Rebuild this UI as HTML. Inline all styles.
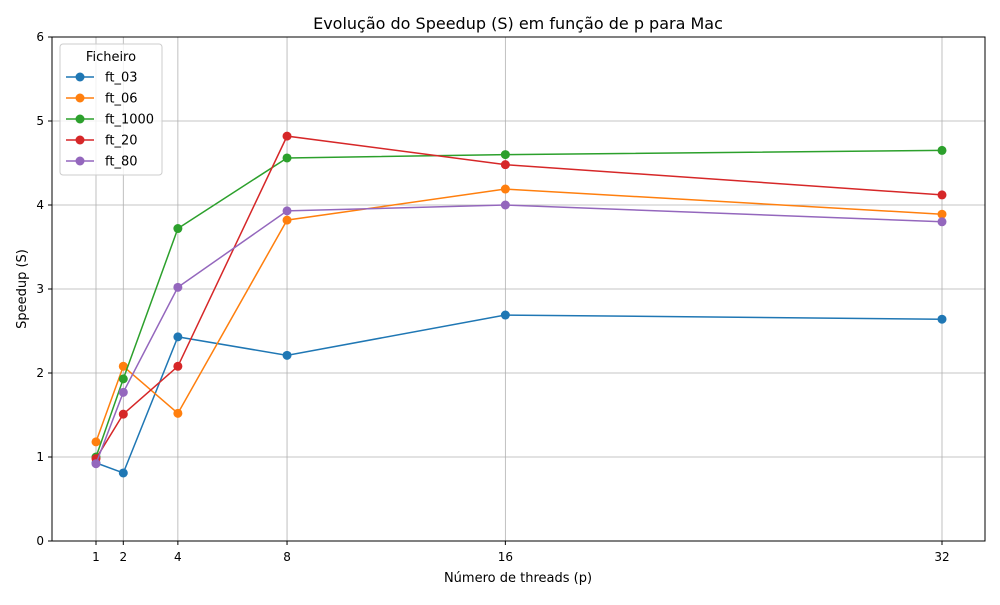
<!DOCTYPE html>
<html><head><meta charset="utf-8"><style>
body{margin:0;background:#fff;font-family:"Liberation Sans","DejaVu Sans",sans-serif;}
svg text{font-family:"DejaVu Sans","Liberation Sans",sans-serif;}
</style></head><body>
<svg id="chart" width="1000" height="600" xmlns="http://www.w3.org/2000/svg">
<rect width="1000" height="600" fill="#fff"/>
<g id="grid"></g>
<g id="series"></g>
<rect x="52" y="37" width="933" height="504" fill="none" stroke="#000" stroke-width="1"/>
<g id="axes"></g>
<text x="518" y="29" text-anchor="middle" font-size="16">Evolução do Speedup (S) em função de p para Mac</text>
<text x="518" y="582" text-anchor="middle" font-size="13">Número de threads (p)</text>
<text transform="translate(26,289) rotate(-90)" text-anchor="middle" font-size="13">Speedup (S)</text>
<g id="legend"></g>
</svg>
<script>
const xValues=[1,2,4,8,16,32];
const xTicks=[1,2,4,8,16,32];
const yTicks=[0,1,2,3,4,5,6];
const seriesNames=["ft_03","ft_06","ft_1000","ft_20","ft_80"];
const colors=["#1f77b4","#ff7f0e","#2ca02c","#d62728","#9467bd"];
const ft03=[0.93,0.81,2.43,2.21,2.69,2.64];
const ft06=[1.18,2.08,1.52,3.82,4.19,3.89];
const ft1000=[1.0,1.93,3.72,4.56,4.60,4.65];
const ft20=[0.98,1.51,2.08,4.82,4.48,4.12];
const ft80=[0.92,1.77,3.02,3.93,4.00,3.80];
const seriesData=[ft03,ft06,ft1000,ft20,ft80];
const NS="http://www.w3.org/2000/svg";
const X=v=>96+(v-1)*(846/31);
const Y=v=>541-v*84;
function mk(t,a,p){const e=document.createElementNS(NS,t);for(const k in a)e.setAttribute(k,a[k]);p.appendChild(e);return e;}
const grid=document.getElementById('grid'),axes=document.getElementById('axes'),ser=document.getElementById('series'),leg=document.getElementById('legend');
xTicks.forEach(t=>{
 const g=mk('line',{x1:X(t),x2:X(t),y1:37,y2:541,stroke:'#b0b0b0','stroke-width':0.8},grid);
 
 
 mk('line',{x1:X(t),x2:X(t),y1:541,y2:545,stroke:'#000'},axes);
 const tx=mk('text',{x:X(t),y:561,'text-anchor':'middle','font-size':12},axes);tx.textContent=t;
 
 
});
yTicks.forEach(t=>{
 const g=mk('line',{x1:52,x2:985,y1:Y(t),y2:Y(t),stroke:'#b0b0b0','stroke-width':0.8},grid);
 
 
 mk('line',{x1:48,x2:52,y1:Y(t),y2:Y(t),stroke:'#000'},axes);
 const tx=mk('text',{x:44,y:Y(t)+4,'text-anchor':'end','font-size':12},axes);tx.textContent=t;
 
 
});
seriesData.forEach((d,i)=>{
 const g=mk('g',{},ser);
 
 
 mk('polyline',{points:d.map((v,j)=>X(xValues[j])+','+Y(v)).join(' '),fill:'none',stroke:colors[i],'stroke-width':1.5},g);
 d.forEach((v,j)=>{
  const c=mk('circle',{cx:X(xValues[j]),cy:Y(v),r:4.5,fill:colors[i]},g);
  
  
 });
});
const lb=mk('rect',{x:60,y:44,width:102,height:131,rx:3,fill:'#fff','fill-opacity':0.8,stroke:'#ccc'},leg);


const lt=mk('text',{x:111,y:61,'text-anchor':'middle','font-size':13},leg);lt.textContent='Ficheiro';


seriesNames.forEach((n,i)=>{
 const y=77+i*21;
 const g=mk('g',{},leg);
 
 
 mk('line',{x1:66,x2:94,y1:y,y2:y,stroke:colors[i],'stroke-width':1.5},g);
 mk('circle',{cx:80,cy:y,r:4.5,fill:colors[i]},g);
 const t=mk('text',{x:105,y:y+4.5,'font-size':13},g);t.textContent=n;
});
</script>
</body></html>
